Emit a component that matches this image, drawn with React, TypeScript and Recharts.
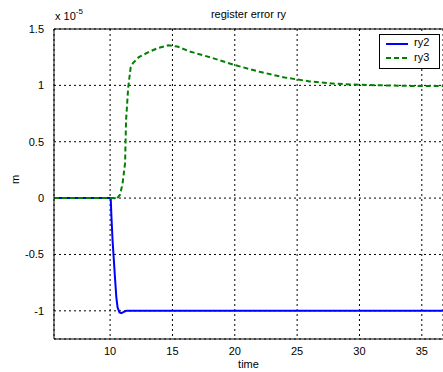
import React from 'react';
import { LineChart, Line, XAxis, YAxis, CartesianGrid, ReferenceLine, Label } from 'recharts';

const xTicks = [10, 15, 20, 25, 30, 35];
const yTicks = [-1, -0.5, 0, 0.5, 1, 1.5];

const ry2Time = [5.5, 10.05, 10.1, 10.2, 10.3, 10.4, 10.5, 10.6, 10.75, 10.9, 11.1, 11.3, 36.7];
const ry2Vals = [0, 0, -0.15, -0.38, -0.55, -0.72, -0.88, -0.97, -1.015, -1.02, -1.01, -1.0, -1.0];

const ry3Time = [5.5, 10.3, 10.5, 10.8, 11.0, 11.1, 11.2, 11.28, 11.45, 11.65, 11.85, 12.3, 13.0, 13.8, 14.65, 15.4, 16.4, 18.0, 20.0, 22.0, 24.0, 26.0, 28.0, 30.0, 32.0, 34.0, 36.7];
const ry3Vals = [0, 0, -0.01, 0.03, 0.13, 0.22, 0.31, 0.69, 0.98, 1.16, 1.2, 1.25, 1.29, 1.33, 1.355, 1.345, 1.3, 1.25, 1.18, 1.12, 1.07, 1.035, 1.015, 1.005, 1.0, 0.995, 0.995];

const ry2 = ry2Time.map((t, i) => ({ t, v: ry2Vals[i] }));
const ry3 = ry3Time.map((t, i) => ({ t, v: ry3Vals[i] }));

const font = 'Arial, "Liberation Sans", sans-serif';
const tickStyle = { fontSize: 11, fill: '#000', fontFamily: font };

export default function App() {
  return (
    <div style={{ position: 'absolute', left: 0, top: 0, width: 443, height: 372, background: '#fff', fontFamily: font, overflow: 'hidden' }}>
      <LineChart width={443} height={372} margin={{ top: 29, right: 0, bottom: 0, left: 0 }}>
        <CartesianGrid stroke="#000" strokeDasharray="2 3" strokeWidth={1} />
        <XAxis
          type="number"
          dataKey="t"
          domain={[5.5, 36.7]}
          ticks={xTicks}
          allowDataOverflow
          height={33}
          stroke="#000"
          tick={tickStyle}
          tickLine={false}
          tickMargin={2}
        >
          <Label value="time" position="insideBottom" offset={4} style={{ fontSize: 11, fill: '#000', fontFamily: font }} />
        </XAxis>
        <YAxis
          type="number"
          dataKey="v"
          domain={[-1.25, 1.5]}
          ticks={yTicks}
          allowDataOverflow
          width={54}
          stroke="#000"
          tick={tickStyle}
          tickLine={false}
          tickMargin={4}
        >
          <Label value="m" angle={-90} position="insideLeft" offset={15} style={{ fontSize: 11, fill: '#000', fontFamily: font }} />
        </YAxis>
        <ReferenceLine y={1.5} stroke="#000" strokeWidth={1} />
        <Line data={ry2} dataKey="v" type="linear" stroke="#0000ff" strokeWidth={2} dot={false} isAnimationActive={false} />
        <Line data={ry3} dataKey="v" type="linear" stroke="#008000" strokeWidth={2} strokeDasharray="5 3" dot={false} isAnimationActive={false} />
      </LineChart>
      <div style={{ position: 'absolute', left: 0, width: 443, top: 8, textAlign: 'center', paddingLeft: 54, boxSizing: 'border-box', fontSize: 11 }}>register error ry</div>
      <div style={{ position: 'absolute', left: 55, top: 10, fontSize: 11 }}>
        x 10<sup style={{ fontSize: 8, verticalAlign: 'top', position: 'relative', top: -3 }}>-5</sup>
      </div>
      <div style={{ position: 'absolute', left: 379, top: 34, width: 59, height: 33, border: '1px solid #000', background: '#fff', fontSize: 11 }}>
        <div style={{ position: 'absolute', left: 6, top: 8, width: 22, height: 0, borderTop: '2px solid #0000ff' }} />
        <div style={{ position: 'absolute', left: 34, top: 1 }}>ry2</div>
        <svg style={{ position: 'absolute', left: 6, top: 22 }} width={22} height={3}>
          <line x1={0} y1={1} x2={22} y2={1} stroke="#008000" strokeWidth={2} strokeDasharray="5 3" />
        </svg>
        <div style={{ position: 'absolute', left: 34, top: 16 }}>ry3</div>
      </div>
    </div>
  );
}
